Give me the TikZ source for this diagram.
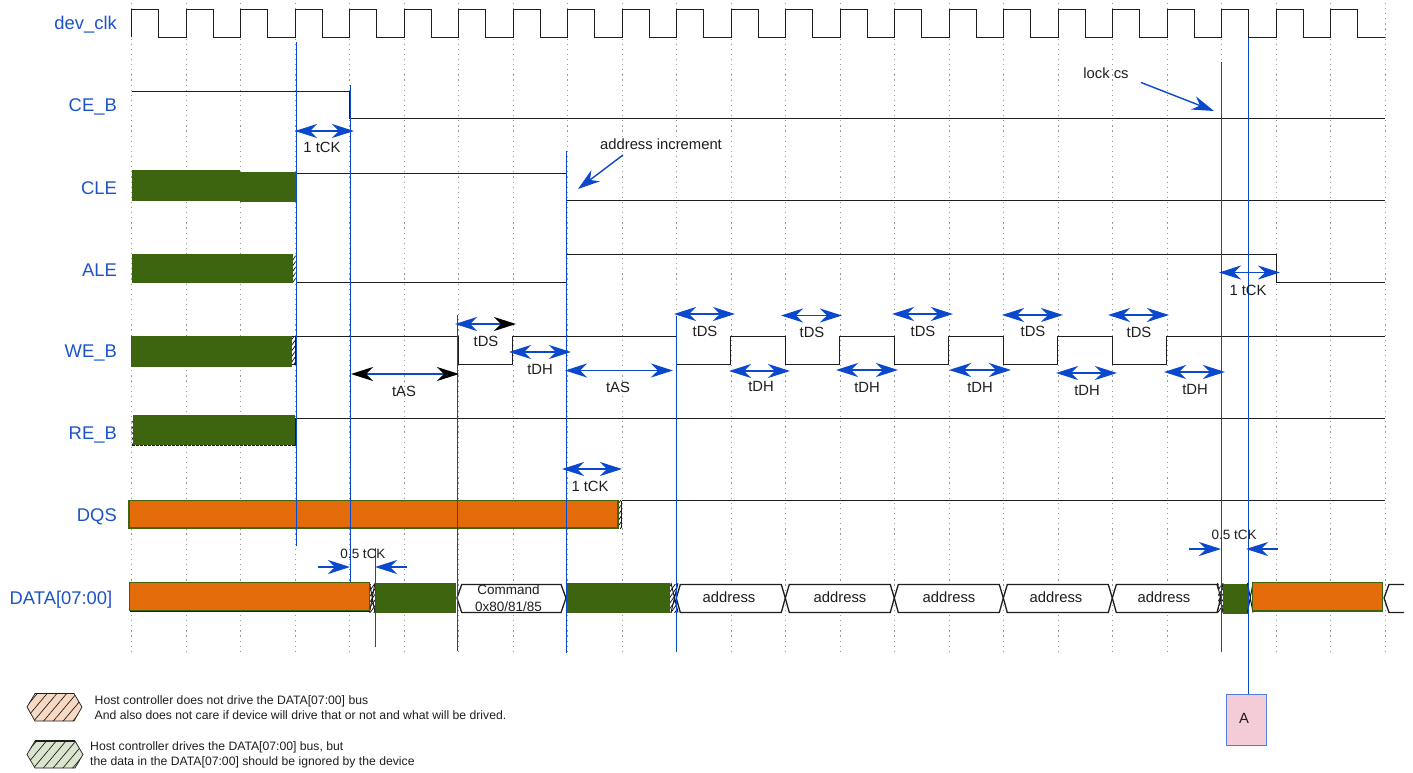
\documentclass[tikz,border=0pt]{standalone}
\usepackage{fontspec}
\setmainfont{Liberation Sans}
\usetikzlibrary{arrows.meta,patterns.meta}
\definecolor{mblue}{RGB}{10,72,205}
\definecolor{lblue}{RGB}{28,84,200}
\definecolor{mgreen}{RGB}{61,101,16}
\definecolor{morange}{RGB}{228,107,10}
\definecolor{mgrid}{RGB}{150,150,150}
\definecolor{mink}{RGB}{30,30,30}
\definecolor{lorange}{RGB}{248,217,196}
\definecolor{lgreen}{RGB}{218,229,207}
\definecolor{mpink}{RGB}{244,204,215}
\tikzset{
  gridline/.style={mgrid,line width=.9pt,dash pattern=on 1.2pt off 3.9pt},
  wave/.style={mink,line width=1.6pt,line join=miter},
  busfill/.style={fill=white,draw=mink,line width=1.3pt,line join=miter},
  greenblk/.style={fill=mgreen},
  orangeblk/.style={fill=morange,draw=mgreen,line width=1.5pt},
  hatchblk/.style={fill=white,postaction={pattern={Lines[angle=55,distance=3.2pt,line width=.7pt]},pattern color=black}},
  marker/.style={mblue,line width=1.7pt},
  dimline/.style={mblue,line width=1.4pt,{Stealth[length=22pt,width=14pt,inset=7pt]}-{Stealth[length=22pt,width=14pt,inset=7pt]}},
  dimblack/.style={mblue,line width=1.4pt,{Stealth[length=22pt,width=14pt,inset=7pt,black]}-{Stealth[length=22pt,width=14pt,inset=7pt,black]}},
  dimmixed/.style={mblue,line width=1.4pt,{Stealth[length=22pt,width=14pt,inset=7pt]}-{Stealth[length=22pt,width=14pt,inset=7pt,black]}},
  onearrow/.style={mblue,line width=1.4pt,-{Stealth[length=22pt,width=14pt,inset=7pt]}},
  siglabel/.style={lblue,anchor=base east,inner sep=0pt,font=\fontsize{18.4}{20}\selectfont},
  timelabel/.style={mink,inner sep=0pt,font=\fontsize{14.8}{17}\selectfont},
  smalllabel/.style={mink,inner sep=0pt,font=\fontsize{13.5}{16}\selectfont},
  legendtext/.style={mink,inner sep=0pt,anchor=west,align=left,font=\fontsize{12.2}{15}\selectfont},
  legendhex/.style={draw=mink,line width=.7pt,postaction={pattern={Lines[angle=50,distance=7.5pt,line width=.7pt]},pattern color=mink}},
}
\newcommand{\dimmark}[8][dimline]{%
  \coordinate (#2a) at (#3,#5);
  \coordinate (#2b) at (#4,#5);
  \draw[#1] (#2a) -- (#2b);
  \node[timelabel] (#2t) at (#7,#8) {#6};
}
\newcommand{\busbox}[4]{%
  \path[busfill] (#2,598) -- (#2+4,584.5) -- (#3-4,584.5) -- (#3,598) -- (#3-4,612.5) -- (#2+4,612.5) -- cycle;
  \node[timelabel] (#1) at (#4,597.5) {address};
}
\newcommand{\crossing}[2]{%
  \draw[mink,line width=1pt] (#1,583) -- (#2,612.5) (#2,583) -- (#1,612.5);
}
\begin{document}
\begin{tikzpicture}[x=1pt,y=-1pt]
\useasboundingbox (0,0) rectangle (1413,773);
% grid
\foreach \k in {0,...,23}{\draw[gridline] ({floor(131.5+54.5*\k)+0.5},3) -- ({floor(131.5+54.5*\k)+0.5},654);}
% clock
\draw[wave] (131.5,37.5) \foreach \k in {0,...,22}{ -- ({floor(131.5+54.5*\k)+0.5},9.5) -- ({floor(158.75+54.5*\k)+0.5},9.5) -- ({floor(158.75+54.5*\k)+0.5},37.5) -- ({floor(186+54.5*\k)+0.5},37.5)} -- (1385,37.5);
% labels
\node[siglabel] (ldev) at (117,30) {dev\_clk};
\node[siglabel] (lce) at (117,112) {CE\_B};
\node[siglabel] (lcle) at (117,194) {CLE};
\node[siglabel] (lale) at (117,276) {ALE};
\node[siglabel] (lwe) at (117,357) {WE\_B};
\node[siglabel] (lre) at (117,439) {RE\_B};
\node[siglabel] (ldqs) at (117,521) {DQS};
\node[siglabel] (ldata) at (112.5,604) {DATA[07:00]};
% CE_B
\draw[wave] (131.5,91.5) -- (349.5,91.5) -- (349.5,118.5) -- (1385,118.5);
% CLE
\draw[wave] (131.5,200.5) -- (240,200.5);
\fill[greenblk] (132,170) rectangle (240,200.5);
\fill[greenblk] (240.3,171.7) rectangle (295.5,201.7);
\draw[wave] (295.5,173.5) -- (566.5,173.5) -- (566.5,200.5) -- (1385,200.5);
% ALE
\fill[hatchblk] (292.5,255) rectangle (295.5,282);
\fill[greenblk] (132,254) rectangle (293,283);
\draw[wave] (295.5,282.5) -- (566.5,282.5) -- (566.5,254.5) -- (1276.5,254.5) -- (1276.5,282.5) -- (1385,282.5);
% WE_B
\fill[hatchblk] (291.5,336.5) rectangle (295.5,364);
\draw[mink,line width=.9pt] (291.5,336.5) -- (295.5,336.5) -- (295.5,364) -- (291.5,364);
\fill[greenblk] (130.8,336) rectangle (291.8,366.8);
\draw[wave] (295.5,336.5) -- (458.5,336.5) -- (458.5,364.5) -- (512.5,364.5) -- (512.5,336.5) -- (676.5,336.5) -- (676.5,364.5) -- (730.5,364.5) -- (730.5,336.5) -- (785.5,336.5) -- (785.5,364.5) -- (839.5,364.5) -- (839.5,336.5) -- (894.5,336.5) -- (894.5,364.5) -- (948.5,364.5) -- (948.5,336.5) -- (1003.5,336.5) -- (1003.5,364.5) -- (1057.5,364.5) -- (1057.5,336.5) -- (1112.5,336.5) -- (1112.5,364.5) -- (1166.5,364.5) -- (1166.5,336.5) -- (1385,336.5);
% RE_B
\fill[hatchblk] (131.5,418) rectangle (133.5,445);
\draw[mink,line width=1pt,dash pattern=on 3pt off 1pt] (131.5,445.5) -- (295.5,445.5);
\fill[greenblk] (133,415) rectangle (294.8,445);
\draw[wave] (295.5,445.5) -- (295.5,418.5) -- (1385,418.5);
% DQS
\fill[hatchblk] (618,500.5) rectangle (622,528);
\draw[mink,line width=.9pt] (621.5,528) -- (621.5,500.5);
\draw[orangeblk] (129,500.5) rectangle (617.8,528);
\draw[wave] (622,500.5) -- (1385,500.5);
% DATA transitions and blocks
\fill[hatchblk] (369.5,584) rectangle (375,612);
\crossing{369.5}{375}
\draw[mink,line width=.8pt] (130,611.5) -- (369,611.5);
\draw[orangeblk] (129.5,582.5) rectangle (369.5,610.7);
\fill[greenblk] (375,582.7) rectangle (455.7,612.7);
\path[busfill] (457,598) -- (461.7,584.5) -- (561,584.5) -- (566,598) -- (561,612.5) -- (461.7,612.5) -- cycle;
\node[smalllabel] (cmd1) at (508.5,590) {Command};
\node[smalllabel] (cmd2) at (508.5,607) {0x80/81/85};
\fill[greenblk] (566,583) rectangle (670,613);
\fill[hatchblk] (670,584) rectangle (676,612);
\crossing{671}{678}
\busbox{d1}{676.3}{785.3}{729}
\busbox{d2}{785.3}{894.3}{840}
\busbox{d3}{894.3}{1003.3}{949}
\busbox{d4}{1003.3}{1112.3}{1056}
\busbox{d5}{1112.3}{1221}{1164}
\fill[hatchblk] (1218,584) rectangle (1223,612);
\crossing{1217.5}{1223}
\fill[greenblk] (1222.7,583.7) rectangle (1247.7,613.7);
\crossing{1247.5}{1253}
\draw[mink,line width=.8pt] (1253,611.8) -- (1382,611.8);
\draw[orangeblk] (1252.5,582.5) rectangle (1382.5,611);
\draw[mink,line width=1.3pt] (1404,584.5) -- (1389,584.5) -- (1384,598) -- (1389,612.5) -- (1404,612.5);
% markers
\coordinate (m1t) at (296.5,42.5); \coordinate (m1b) at (296.5,546);
\coordinate (m2t) at (350.5,85); \coordinate (m2b) at (350.5,582);
\coordinate (m3t) at (375.5,548); \coordinate (m3b) at (375.5,647);
\coordinate (m4t) at (457.5,315); \coordinate (m4b) at (457.5,651);
\coordinate (m5t) at (566.5,151); \coordinate (m5b) at (566.5,653);
\coordinate (m6t) at (676.5,315.5); \coordinate (m6b) at (676.5,652);
\coordinate (m7t) at (1221.5,62.5); \coordinate (m7b) at (1221.5,651.5);
\coordinate (m8t) at (1248.5,38);
\foreach \m in {1,...,7}{\draw[marker] (m\m t) -- (m\m b);}
\node[draw=mblue!70,fill=mpink,line width=1.3pt,minimum width=40pt,minimum height=51pt,inner sep=0pt,anchor=north west] (A) at (1226,694) {};
\node[mink,inner sep=0pt,font=\fontsize{14.8}{17}\selectfont] (Atxt) at (1244,718) {A};
\draw[marker] (m8t) -- (m8t |- A.north);
% dimensions
\dimmark{a1}{295}{354}{131}{1 tCK}{322}{147.5}
\dimmark{a2}{1219}{1280}{272.5}{1 tCK}{1248}{290}
\dimmark{a3}{562}{622}{469}{1 tCK}{590}{486}
\dimmark[dimblack]{s1}{351}{459}{374}{tAS}{404}{391}
\dimmark[dimmixed]{s2}{455}{516}{324}{tDS}{486}{341}
\dimmark{s3}{509}{571}{352}{tDH}{540}{369}
\dimmark{s4}{565}{673}{370.5}{tAS}{618}{387}
\dimmark{s5}{674}{735}{314}{tDS}{705}{331}
\dimmark{s6}{729}{790}{371}{tDH}{761}{386}
\dimmark{s7}{781}{842}{315.5}{tDS}{812}{332}
\dimmark{s8}{836}{898}{370}{tDH}{867}{387}
\dimmark{s9}{892}{953}{314}{tDS}{923}{331}
\dimmark{s10}{949}{1011}{370}{tDH}{980}{387}
\dimmark{s11}{1002}{1063}{315}{tDS}{1033}{331}
\dimmark{s12}{1056}{1117}{373}{tDH}{1087}{390}
\dimmark{s13}{1108}{1169}{315}{tDS}{1139}{332}
\dimmark{s14}{1164}{1225}{372}{tDH}{1195}{389}
% half tCK
\coordinate (h1a) at (318,567); \coordinate (h1b) at (350,567);
\coordinate (h2a) at (407,567); \coordinate (h2b) at (375,567);
\coordinate (h3a) at (1189,549); \coordinate (h3b) at (1221,549);
\coordinate (h4a) at (1278,549); \coordinate (h4b) at (1246,549);
\foreach \m in {1,...,4}{\draw[onearrow] (h\m a) -- (h\m b);}
\node[smalllabel] (h1t) at (363,554) {0.5 tCK};
\node[smalllabel] (h2t) at (1234,535) {0.5 tCK};
% notes
\node[timelabel] (lock) at (1106,73) {lock cs};
\coordinate (locka) at (1141,82.5); \coordinate (lockb) at (1214,111);
\draw[onearrow] (locka) -- (lockb);
\node[timelabel] (addr) at (661,144) {address increment};
\coordinate (addra) at (623,155); \coordinate (addrb) at (578,189);
\draw[onearrow] (addra) -- (addrb);
% legend
\draw[legendhex,fill=lorange] (27,707) -- (35,693.5) -- (74,693.5) -- (82,707) -- (74,721) -- (35,721) -- cycle;
\draw[mink,line width=1.2pt] (35,693.5) -- (74,693.5);
\node[legendtext] (leg1) at (94.5,707.5) {Host controller does not drive the DATA[07:00] bus\\And also does not care if device will drive that or not and what will be drived.};
\draw[legendhex,fill=lgreen] (27,754.5) -- (35,741) -- (75,741) -- (83,754.5) -- (75,768) -- (35,768) -- cycle;
\draw[mink,line width=1.2pt] (35,741) -- (75,741);
\node[legendtext] (leg2) at (90,754.5) {Host controller drives the DATA[07:00] bus, but\\the data in the DATA[07:00] should be ignored by the device};
\end{tikzpicture}
\end{document}
